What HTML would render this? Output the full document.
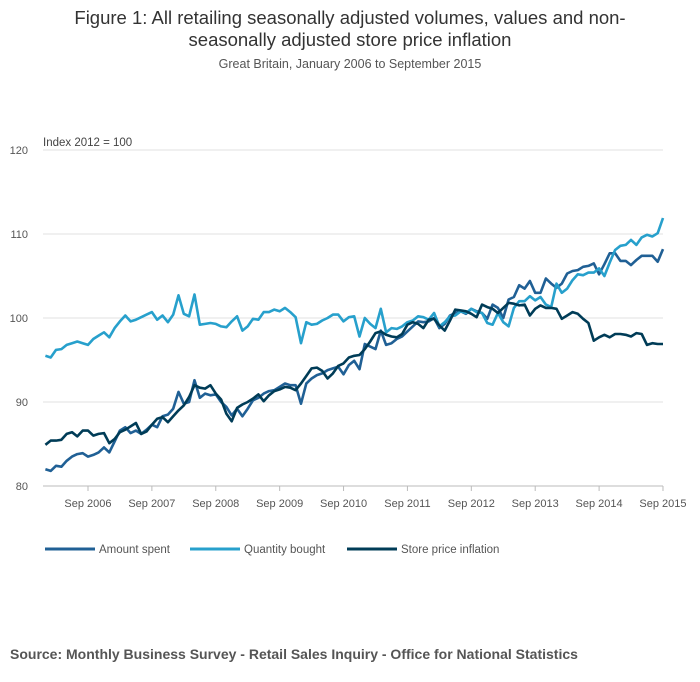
<!DOCTYPE html>
<html><head><meta charset="utf-8"><style>
body{margin:0;background:#fff;font-family:"Liberation Sans",sans-serif}
#wrap{position:relative;width:700px;height:682px;overflow:hidden}
.t{position:absolute;left:0;width:700px;text-align:center;color:#333}
</style></head><body>
<div id="wrap">
<div class="t" style="top:7px;font-size:18.5px;line-height:22px">Figure 1: All retailing seasonally adjusted volumes, values and non-<br>seasonally adjusted store price inflation</div>
<div class="t" style="top:57px;font-size:12.5px;color:#555">Great Britain, January 2006 to September 2015</div>
<svg id="svg" width="700" height="682" style="position:absolute;left:0;top:0"></svg>
<div style="position:absolute;left:10px;top:646px;font-size:14px;font-weight:bold;color:#555">Source: Monthly Business Survey - Retail Sales Inquiry - Office for National Statistics</div>
</div>
<script>
const amountSpent=[82.0,81.8,82.4,82.3,83.0,83.5,83.8,83.9,83.5,83.7,84.0,84.6,
84.0,85.3,86.6,87.0,86.3,86.6,86.2,86.7,87.3,87.0,88.3,88.5,
89.2,91.2,89.8,90.0,92.6,90.5,91.0,90.8,90.9,90.0,89.4,88.4,
89.2,88.3,89.2,90.2,90.5,91.0,91.3,91.4,91.8,92.2,92.0,92.0,
89.8,92.2,92.8,93.2,93.4,93.8,94.0,94.2,93.3,94.4,94.9,93.9,
96.9,96.6,96.3,98.5,96.8,97.0,97.5,97.8,98.4,99.0,99.6,99.5,
99.6,100.0,98.8,99.3,100.3,100.6,100.8,100.5,101.1,100.8,100.6,99.9,
101.6,101.2,100.0,102.2,102.5,103.9,103.5,104.4,103.0,103.0,104.7,104.1,
103.6,104.1,105.3,105.6,105.7,106.1,106.2,106.5,105.2,106.4,107.7,107.7,
106.8,106.8,106.3,106.9,107.4,107.4,107.4,106.7,108.2];
const quantityBought=[95.5,95.3,96.2,96.3,96.8,97.0,97.2,97.0,96.8,97.5,97.9,98.3,
97.7,98.8,99.6,100.3,99.6,99.8,100.1,100.4,100.7,99.8,100.3,99.5,
100.4,102.7,100.5,100.2,102.8,99.2,99.3,99.4,99.3,99.0,98.9,99.6,
100.2,98.5,99.0,99.9,99.8,100.7,100.7,101.0,100.8,101.2,100.7,100.1,
97.0,99.5,99.2,99.3,99.7,100.0,100.4,100.4,99.6,100.1,100.2,97.8,
100.0,99.3,98.8,101.1,98.3,98.8,98.7,99.0,99.5,99.7,100.2,100.1,
99.8,100.6,99.0,99.5,100.2,100.3,100.8,100.6,101.1,100.7,100.6,99.4,
99.2,100.6,99.5,99.0,101.2,102.0,102.0,102.6,102.1,102.5,101.6,101.3,
104.1,103.0,103.5,104.5,105.2,105.1,105.4,105.4,105.9,105.0,106.6,108.1,
108.6,108.7,109.3,108.7,109.6,109.9,109.7,110.1,111.9];
const storePrice=[84.9,85.4,85.4,85.5,86.2,86.4,85.9,86.6,86.6,86.0,86.2,86.3,
85.1,85.6,86.4,86.7,87.1,87.5,86.2,86.5,87.3,88.0,88.2,87.6,
88.3,89.0,89.6,90.6,92.0,91.7,91.6,92.0,91.0,90.3,88.6,87.7,
89.3,89.7,90.0,90.4,90.9,90.1,90.8,91.3,91.5,91.8,91.7,91.4,
92.2,93.1,94.0,94.1,93.7,92.8,93.4,94.3,94.6,95.3,95.5,95.6,
96.3,97.2,98.2,98.4,98.0,97.8,97.7,98.1,99.2,99.5,99.3,98.8,
99.8,99.9,99.1,98.5,99.7,101.0,100.9,100.8,100.5,100.1,101.6,101.3,
101.1,100.6,101.2,101.8,101.7,101.5,101.6,100.3,101.1,101.5,101.2,101.2,
101.1,99.9,100.3,100.7,100.5,99.9,99.4,97.3,97.7,98.0,97.7,98.1,
98.1,98.0,97.8,98.2,98.1,96.8,97.0,96.9,96.9];
const yTicks=[80,90,100,110,120];
const xTickLabels=["Sep 2006","Sep 2007","Sep 2008","Sep 2009","Sep 2010","Sep 2011","Sep 2012","Sep 2013","Sep 2014","Sep 2015"];
const seriesNames=["Amount spent","Quantity bought","Store price inflation"];
const colors=["#206095","#27a0cc","#003c57"];

const NS="http://www.w3.org/2000/svg";
const svg=document.getElementById('svg');
const x=i=>45.4+i*5.324;
const y=v=>486-(v-80)*8.4;
function mk(t,a,p){const e=document.createElementNS(NS,t);for(const k in a)e.setAttribute(k,a[k]);(p||svg).appendChild(e);return e;}
yTicks.forEach(v=>{
  const g=mk('line',{x1:43,x2:663,y1:y(v),y2:y(v),stroke:v===80?'#bbb':'#e2e2e2','stroke-width':1});
  
  
  const t=mk('text',{x:28,y:y(v)+4,'text-anchor':'end','font-size':11,fill:'#555','font-family':'Liberation Sans, sans-serif'});
  t.textContent=v;
  
  
});
const yt=mk('text',{x:43,y:146,'font-size':11.5,fill:'#444','font-family':'Liberation Sans, sans-serif'});
yt.textContent='Index 2012 = 100';


xTickLabels.forEach((l,k)=>{
  const xi=x(8+12*k);
  const tk=mk('line',{x1:xi,x2:xi,y1:486,y2:491,stroke:'#bbb'});
  
  
  const t=mk('text',{x:xi,y:507,'text-anchor':'middle','font-size':11,fill:'#555','font-family':'Liberation Sans, sans-serif'});
  t.textContent=l;
  
  
});
[amountSpent,quantityBought,storePrice].forEach((d,s)=>{
  const p=mk('polyline',{points:d.map((v,i)=>x(i).toFixed(1)+','+y(v).toFixed(1)).join(' '),fill:'none',stroke:colors[s],'stroke-width':2.6,'stroke-linejoin':'round'});
  
  
});
const lx=[45,190,347];
seriesNames.forEach((n,s)=>{
  const l=mk('line',{x1:lx[s],x2:lx[s]+50,y1:549,y2:549,stroke:colors[s],'stroke-width':3});
  
  
  const t=mk('text',{x:lx[s]+54,y:553,'font-size':11.5,fill:'#555','font-family':'Liberation Sans, sans-serif'});
  t.textContent=n;
  
  
});
</script>
</body></html>
